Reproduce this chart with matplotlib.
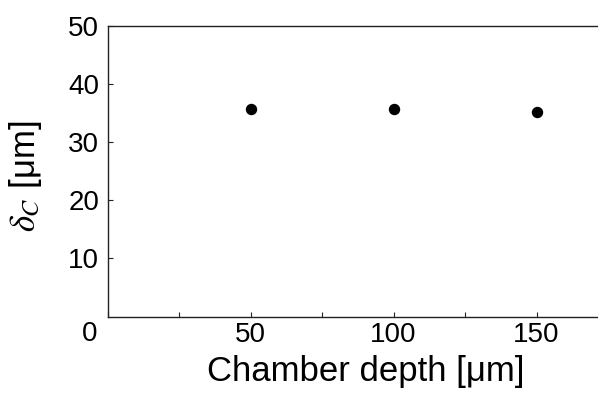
import matplotlib
matplotlib.use('Agg')
import matplotlib.pyplot as plt
from matplotlib.ticker import MultipleLocator

# data
depth_um = [50, 100, 150]
delta_c_um = [35.7, 35.7, 35.1]

plt.rcParams['font.family'] = ['Liberation Sans', 'DejaVu Sans']
plt.rcParams['mathtext.fontset'] = 'stix'

fig = plt.figure(figsize=(5.98, 3.94), dpi=100)
ax = fig.add_axes([0.1798, 0.1962, 0.8202, 0.7386])

ax.plot(depth_um, delta_c_um, 'o', color='black', markersize=7.2)

ax.set_xlim(0, 171.5)
ax.set_ylim(0, 50)
ax.set_xticks([50, 100, 150])
ax.xaxis.set_minor_locator(MultipleLocator(25))
ax.set_yticks([10, 20, 30, 40, 50])

ax.tick_params(which='both', direction='in', length=3.5, width=0.8,
               colors='#222222', labelcolor='black', labelsize=20)
ax.tick_params(axis='x', pad=4)
ax.tick_params(axis='y', pad=6)
ax.spines['right'].set_visible(False)
for s in ['left', 'bottom', 'top']:
    ax.spines[s].set_linewidth(1.0)
    ax.spines[s].set_color('#222222')

# origin label sits at the corner
ax.text(-0.036, -0.058, '0', transform=ax.transAxes, fontsize=20,
        ha='center', va='center')

ax.set_xlabel('Chamber depth [μm]', fontsize=25)
ax.xaxis.set_label_coords(0.527, -0.19)
ax.xaxis.label.set_va('center')
ax.set_ylabel(r'$\delta_C$ [μm]', fontsize=25)
ax.yaxis.set_label_coords(-0.168, 0.483)
ax.yaxis.label.set_va('center')

fig.savefig('out.png', dpi=100)
